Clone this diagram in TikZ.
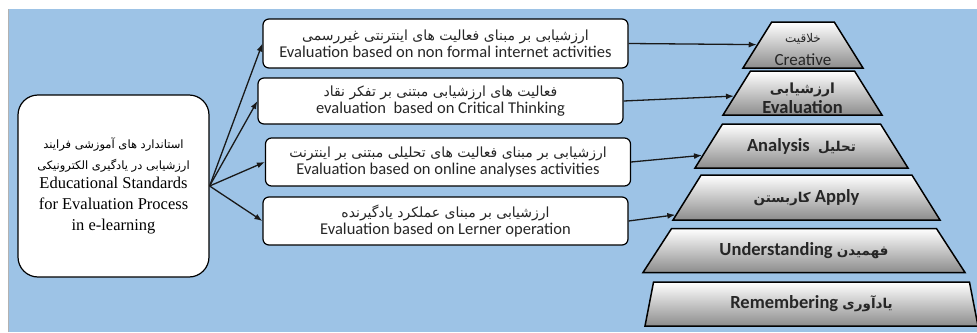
\documentclass[tikz,border=0pt]{standalone}
\usepackage{fontspec}
\setmainfont{Liberation Serif}
\newfontfamily\calib{Carlito}
\newfontfamily\arabicfont[Script=Arabic]{DejaVu Sans}
\TeXXeTstate=1
\usetikzlibrary{shapes.geometric,arrows.meta}
\definecolor{sky}{HTML}{9DC3E6}
\newcommand{\fatxt}[1]{{\arabicfont\beginR #1\endR}}

\begin{document}
\begin{tikzpicture}[x=1pt,y=-1pt,
  evalbox/.style={draw,line width=1.2pt,fill=white,rounded corners=6pt,minimum width=365pt,
    inner sep=2pt,align=center,text=black!85,font=\calib\fontsize{16.5}{19}\selectfont},
  level/.style={trapezium,trapezium angle=58,trapezium stretches body,draw,line width=1.5pt,
    top color=white,bottom color=black!45,inner sep=0pt,text depth=0pt},
  leveltext/.style={inner sep=0pt,align=center,text=black!85,
    font=\calib\bfseries\fontsize{18.5}{21}\selectfont},
  arr/.style={-{Latex[length=8pt,width=6pt]},line width=1.3pt,black!90}]
  \useasboundingbox (0,0) rectangle (977,332);
  \fill[sky] (8,9) rectangle (977,332);
  \draw[black!30,line width=0.8pt] (8,9) -- (8,332);

  \node[draw,line width=1.2pt,fill=white,rounded corners=20pt,minimum width=191pt,minimum height=182pt,
    align=center,inner sep=2pt,font=\fontsize{16.5}{21}\selectfont] (standards) at (113.5,186)
    {{\fontsize{11.5}{13}\selectfont\fatxt{استاندارد های آموزشی فرایند}}\\[0pt]
     {\fontsize{11.5}{13}\selectfont\fatxt{ارزشیابی در یادگیری الکترونیکی}}\\[-2pt]
     Educational Standards\\for Evaluation Process\\in e-learning};

  \node[evalbox,minimum height=49pt] (nonformal) at (445.5,43.5)
    {{\fontsize{14}{15}\selectfont\fatxt{ارزشیابی بر مبنای فعالیت های اینترنتی غیررسمی}}\\[-2pt]
     Evaluation based on non formal internet activities};
  \node[evalbox,minimum height=46pt] (critical) at (440.5,101)
    {{\fontsize{14}{15}\selectfont\fatxt{فعالیت های ارزشیابی مبتنی بر تفکر نقاد}}\\[-2pt]
     evaluation\ \ based on Critical Thinking};
  \node[evalbox,minimum height=48pt] (online) at (448,162)
    {{\fontsize{14}{15}\selectfont\fatxt{ارزشیابی بر مبنای فعالیت های تحلیلی مبتنی بر اینترنت}}\\[-2pt]
     Evaluation based on online analyses activities};
  \node[evalbox,minimum height=48pt] (lerner) at (445.5,221)
    {{\fontsize{14}{15}\selectfont\fatxt{ارزشیابی بر مبنای عملکرد یادگیرنده}}\\[-2pt]
     Evaluation based on Lerner operation};

  \node[level,minimum width=120pt,text height=46pt] (creative) at (803,45) {};
  \node[level,minimum width=159pt,text height=44pt] (evaluation) at (802.5,93) {};
  \node[level,minimum width=213pt,text height=44pt] (analysis) at (801.5,146) {};
  \node[level,minimum width=267pt,text height=45pt] (apply) at (806.5,197.5) {};
  \node[level,trapezium angle=57,minimum width=322pt,text height=44pt] (understanding) at (804,250.5) {};
  \node[level,trapezium angle=79,minimum width=333pt,text height=44pt] (remembering) at (811.5,304) {};

  \node[leveltext,font=\calib\fontsize{17}{19}\selectfont] (creative-t) at ([yshift=-5pt]creative)
    {{\fontsize{12}{14}\selectfont\fatxt{خلاقیت}}\\[4pt]Creative};
  \node[leveltext] (evaluation-t) at ([yshift=-5pt]evaluation)
    {{\fontsize{14}{16}\selectfont\fatxt{ارزشیابی}}\\[-1pt]Evaluation};
  \node[leveltext] (analysis-t) at (analysis) {Analysis\ \ {\fontsize{13.5}{15}\selectfont\fatxt{تحلیل}}};
  \node[leveltext] (apply-t) at (apply) {{\fontsize{13.5}{15}\selectfont\fatxt{کاربستن}} Apply};
  \node[leveltext] (understanding-t) at (understanding) {Understanding {\fontsize{13.5}{15}\selectfont\fatxt{فهمیدن}}};
  \node[leveltext] (remembering-t) at (remembering) {Remembering {\fontsize{13.5}{15}\selectfont\fatxt{یادآوری}}};

  \foreach \t in {nonformal,critical,online,lerner}
    \draw[arr] (standards.east) -- (\t.west);
  \draw[arr] (nonformal.east) -- (creative);
  \draw[arr] (critical.east) -- (evaluation);
  \draw[arr] (online.east) -- (analysis);
  \draw[arr] (lerner.east) -- (apply);
\end{tikzpicture}
\end{document}
